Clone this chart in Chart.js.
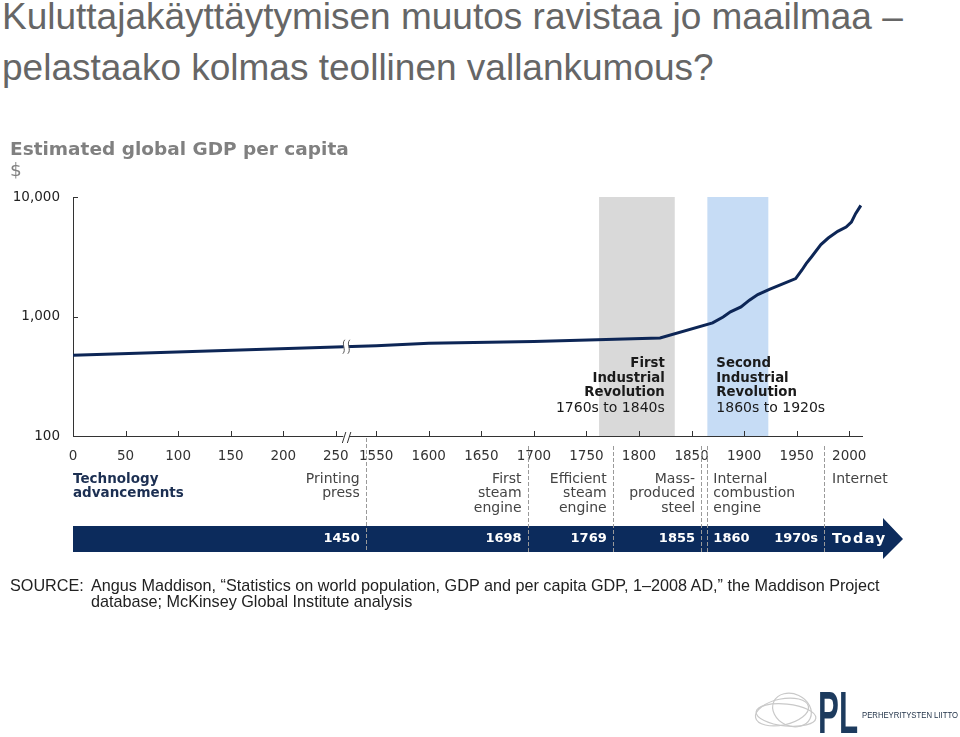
<!DOCTYPE html>
<html>
<head>
<meta charset="utf-8">
<script src="https://cdn.jsdelivr.net/npm/chart.js@4.4.1/dist/chart.umd.min.js"></script>
<style>
html,body{margin:0;padding:0;background:#fff;}
body{width:960px;height:737px;position:relative;overflow:hidden;font-family:"Liberation Sans",Arial,sans-serif;}
#title{position:absolute;left:2px;top:-9px;font-size:37px;line-height:51px;color:#666;white-space:nowrap;}
#wrap{position:absolute;left:0;top:0;width:960px;height:737px;}
#ytitle{position:absolute;left:10px;top:138px;font-family:"DejaVu Sans",sans-serif;font-size:18.5px;line-height:21px;color:#808080;white-space:nowrap;}
#ytitle b{font-weight:bold;}
#srcLab{position:absolute;left:10px;top:577px;font-size:16.2px;line-height:16px;color:#222;}
#srcTxt{position:absolute;left:91px;top:577px;font-size:16.2px;line-height:16px;color:#222;white-space:nowrap;}
#logo{position:absolute;left:750px;top:685px;}
</style>
</head>
<body>
<div id="title">Kuluttajakäyttäytymisen muutos ravistaa jo maailmaa –<br>pelastaako kolmas teollinen vallankumous?</div>
<div id="wrap"><canvas id="c" width="960" height="737"></canvas></div>
<div id="ytitle"><b>Estimated global GDP per capita</b><br>$</div>
<div id="srcLab">SOURCE:</div>
<div id="srcTxt">Angus Maddison, “Statistics on world population, GDP and per capita GDP, 1–2008 AD,” the Maddison Project<br>database; McKinsey Global Institute analysis</div>
<svg id="logo" width="210" height="52" viewBox="0 0 210 52">
  <g fill="none" stroke="#c9c9c9" stroke-width="1.2">
    <ellipse cx="32" cy="27" rx="27" ry="13" transform="rotate(-12 32 27)"/>
    <ellipse cx="42" cy="25" rx="20" ry="16" transform="rotate(25 42 25)"/>
    <ellipse cx="36" cy="30" rx="30" ry="11" transform="rotate(6 36 30)"/>
  </g>
  <text x="68" y="48" font-family="Liberation Sans Narrow, Liberation Sans, sans-serif" font-weight="bold" font-size="60" fill="#1d3b5e" textLength="40" lengthAdjust="spacingAndGlyphs">PL</text>
  <text x="112" y="33" font-family="Liberation Sans, sans-serif" font-size="9" fill="#1d2f45" textLength="96" lengthAdjust="spacingAndGlyphs">PERHEYRITYSTEN  LIITTO</text>
</svg>
<script>
// ---- data ----
const tickYears = [0, 50, 100, 150, 200, 250, 1550, 1600, 1650, 1700, 1750, 1800, 1850, 1900, 1950, 2000];
const yTickValues = [100, 1000, 10000];
const years = [0, 250, 1550, 1600, 1700, 1820, 1870, 1880, 1887, 1897, 1905, 1913, 1924, 1935, 1949, 1955, 1959, 1964, 1973, 1980, 1989, 1997, 2002, 2006, 2011];
const gdpPerCapita = [475, 555, 568, 596, 619, 662, 884, 990, 1093, 1202, 1370, 1526, 1690, 1851, 2077, 2450, 2773, 3148, 3995, 4535, 5160, 5600, 6166, 7254, 8505];
const bandFrom = [1762, 1865];
const bandTo = [1834, 1923];
const bandTitles = [["First", "Industrial", "Revolution"], ["Second", "Industrial", "Revolution"]];
const bandPeriods = ["1760s to 1840s", "1860s to 1920s"];
const separatorYears = [1540, 1694, 1775, 1859, 1865, 1976];
const techNames = [["Printing", "press"], ["First", "steam", "engine"], ["Efficient", "steam", "engine"], ["Mass-", "produced", "steel"], ["Internal", "combustion", "engine"], [], ["Internet"]];
const techDates = ["1450", "1698", "1769", "1855", "1860", "1970s", "Today"];
const techSep = [0, 1, 2, 3, 4, 5, 5];
const techSide = ["right", "right", "right", "right", "left", "right", "left"];

// broken axis: years after the break are shifted left
const GAP_SHIFT = 1261.6;
const BREAK_POS = 260;
const toD = yr => (yr <= 250 ? yr : yr - GAP_SHIFT);

const NAVY = '#0c2b5c';
const REG = '"DejaVu Sans", sans-serif';

const deco = {
  id: 'deco',
  beforeDatasetsDraw(chart) {
    const { ctx, chartArea: a, scales: { x } } = chart;
    ctx.save();
    const cols = ['#d9d9d9', '#c6dcf5'];
    bandFrom.forEach((f, i) => {
      const x0 = x.getPixelForValue(toD(f)), x1 = x.getPixelForValue(toD(bandTo[i]));
      ctx.fillStyle = cols[i];
      ctx.fillRect(x0, a.top, x1 - x0, a.bottom - a.top);
    });
    ctx.restore();
  },
  afterDatasetsDraw(chart) {
    const { ctx, chartArea: a, scales: { x, y } } = chart;
    ctx.save();
    // band annotations
    ctx.fillStyle = '#1a1a1a';
    bandFrom.forEach((f, i) => {
      const right = i === 0;
      const px = right ? x.getPixelForValue(toD(bandTo[i])) - 10 : x.getPixelForValue(toD(f)) + 9;
      ctx.textAlign = right ? 'right' : 'left';
      ctx.textBaseline = 'middle';
      ctx.font = 'bold 13.3px ' + REG;
      bandTitles[i].forEach((t, k) => ctx.fillText(t, px, 364 + k * 14.5));
      ctx.font = '14px ' + REG;
      ctx.fillText(bandPeriods[i], px, 408);
    });
    // axis ticks (inward)
    ctx.strokeStyle = '#333';
    ctx.lineWidth = 1;
    x.ticks.forEach(t => {
      const px = Math.round(x.getPixelForValue(t.value)) + 0.5;
      ctx.beginPath(); ctx.moveTo(px, a.bottom); ctx.lineTo(px, a.bottom - 5); ctx.stroke();
    });
    y.ticks.forEach(t => {
      const py = Math.round(y.getPixelForValue(t.value)) + 0.5;
      ctx.beginPath(); ctx.moveTo(a.left, py); ctx.lineTo(a.left + 5, py); ctx.stroke();
    });
    // axis break
    const xb = x.getPixelForValue(BREAK_POS);
    ctx.fillStyle = '#fff';
    ctx.fillRect(xb - 3, a.bottom - 2, 6, 4);
    ctx.beginPath();
    ctx.moveTo(xb - 4, a.bottom + 7); ctx.lineTo(xb - 0.5, a.bottom - 4);
    ctx.moveTo(xb + 1, a.bottom + 7); ctx.lineTo(xb + 4.5, a.bottom - 4);
    ctx.stroke();
    // line break
    const pts = chart.getDatasetMeta(0).data;
    let ly = pts[0].y;
    for (let i = 1; i < pts.length; i++) {
      if (pts[i].x >= xb) {
        const p0 = pts[i - 1], p1 = pts[i];
        ly = p0.y + (p1.y - p0.y) * (xb - p0.x) / (p1.x - p0.x);
        break;
      }
    }
    ctx.fillStyle = '#fff';
    ctx.fillRect(xb - 2.5, ly - 4, 5, 8);
    ctx.strokeStyle = '#555';
    ctx.lineWidth = 1;
    [-2.5, 2.5].forEach(off => {
      ctx.beginPath();
      ctx.moveTo(xb + off + 1, ly - 7);
      ctx.bezierCurveTo(xb + off - 3, ly - 3, xb + off + 3, ly + 3, xb + off - 1, ly + 7);
      ctx.stroke();
    });
    // technology row
    ctx.fillStyle = '#1c2f52';
    ctx.font = 'bold 13.5px ' + REG;
    ctx.textAlign = 'left';
    ctx.textBaseline = 'middle';
    ctx.fillText('Technology', a.left, 479);
    ctx.fillText('advancements', a.left, 493.5);
    // arrow bar
    const barL = a.left, barR = a.right + 21, barT = 526, barB = 552, tip = barR + 20;
    ctx.fillStyle = NAVY;
    ctx.beginPath();
    ctx.moveTo(barL, barT); ctx.lineTo(barR, barT); ctx.lineTo(barR, barT - 8);
    ctx.lineTo(tip, (barT + barB) / 2); ctx.lineTo(barR, barB + 7); ctx.lineTo(barR, barB);
    ctx.lineTo(barL, barB); ctx.closePath(); ctx.fill();
    // separators
    const sepX = separatorYears.map(s => x.getPixelForValue(toD(s)));
    ctx.strokeStyle = '#9a9a9a';
    ctx.setLineDash([4, 2]);
    sepX.forEach((sx, i) => {
      const px = Math.round(sx) + 0.5;
      ctx.beginPath(); ctx.moveTo(px, i === 0 ? a.bottom + 2 : 446); ctx.lineTo(px, barB); ctx.stroke();
    });
    ctx.setLineDash([]);
    techNames.forEach((lines, i) => {
      const right = techSide[i] === 'right';
      const sx = sepX[techSep[i]];
      const px = right ? sx - 6 : sx + (i === 6 ? 8 : 6);
      ctx.textAlign = right ? 'right' : 'left';
      ctx.fillStyle = '#444';
      ctx.font = '14px ' + REG;
      ctx.letterSpacing = '0px';
      lines.forEach((t, k) => ctx.fillText(t, px, 479 + k * 14.8));
      ctx.fillStyle = '#fff';
      ctx.font = (i === 6 ? 'bold 14.5px ' : 'bold 13px ') + REG;
      ctx.letterSpacing = i === 6 ? '1.5px' : '0px';
      ctx.fillText(techDates[i], px, 539);
    });
    ctx.letterSpacing = '0px';
    ctx.restore();
  }
};

new Chart(document.getElementById('c'), {
  type: 'line',
  data: {
    datasets: [{
      data: years.map((yr, i) => ({ x: toD(yr), y: gdpPerCapita[i] })),
      borderColor: '#0d2656',
      borderWidth: 3,
      pointRadius: 0,
      tension: 0,
      fill: false
    }]
  },
  options: {
    responsive: false,
    animation: false,
    events: [],
    layout: { padding: { left: 0, top: 197, right: 98, bottom: 0 } },
    plugins: { legend: { display: false }, tooltip: { enabled: false } },
    scales: {
      x: {
        type: 'linear',
        min: 0,
        max: 750.5,
        grid: { display: false, drawTicks: false },
        border: { display: true, color: '#333', width: 1 },
        afterBuildTicks: s => { s.ticks = tickYears.map(v => ({ value: toD(v) })); },
        afterFit: s => { s.height = 737 - 436; },
        ticks: {
          autoSkip: false, maxRotation: 0, padding: 12, color: '#333',
          font: { family: 'DejaVu Sans', size: 13.5 },
          callback: (v, i) => String(tickYears[i])
        }
      },
      y: {
        type: 'logarithmic',
        min: 100,
        max: 10000,
        grid: { display: false, drawTicks: false },
        border: { display: true, color: '#333', width: 1 },
        afterBuildTicks: s => { s.ticks = yTickValues.map(v => ({ value: v })); },
        afterFit: s => { s.width = 73; },
        ticks: {
          padding: 13, color: '#222',
          font: { family: 'DejaVu Sans', size: 13.5 },
          callback: v => Number(v).toLocaleString('en-US')
        }
      }
    }
  },
  plugins: [deco]
});
</script>
</body>
</html>
